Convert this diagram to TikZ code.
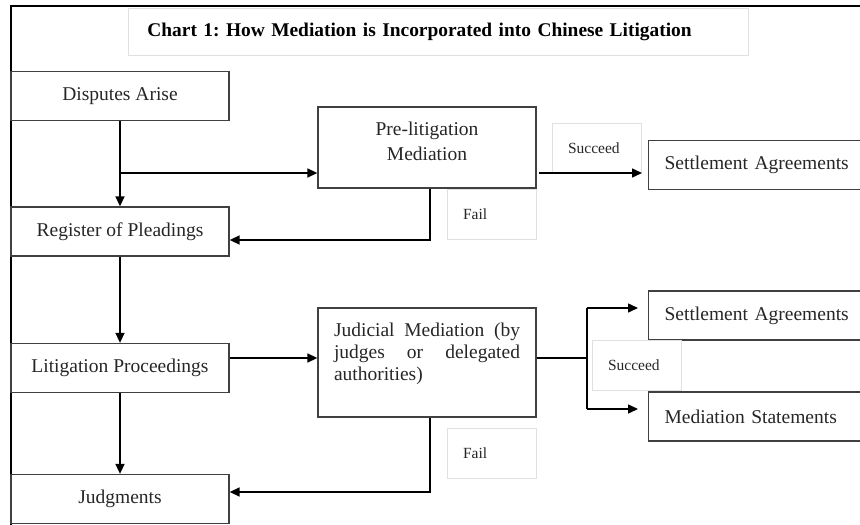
\documentclass[tikz,border=0pt]{standalone}
\usepackage{fontspec}
\setmainfont{Liberation Serif}
\usetikzlibrary{arrows.meta}
\frenchspacing

\begin{document}
\begin{tikzpicture}[x=1pt,y=-1pt,line width=1.5pt,>={Triangle[length=10pt,width=9pt]},
    box/.style={draw=black!75,line width=1.3pt,minimum width=218pt,minimum height=49pt,
        font=\fontsize{19.5}{24}\selectfont,text=black!85},
    rbox/.style={box,anchor=west,text width=198pt,inner xsep=16pt,align=left},
    lbl/.style={draw=black!12,line width=0.8pt,minimum height=50pt,text width=57pt,
        inner xsep=16pt,align=left,font=\fontsize{15.5}{18}\selectfont,text=black!85}]
    \useasboundingbox (0,0) rectangle (860,525);
    \draw[line width=2.5pt] (11,6) rectangle (900,560);

    \node[lbl,anchor=north west,minimum height=47pt,text width=582pt,inner xsep=19pt,
        font=\bfseries\fontsize{19.4}{24}\selectfont,text=black] (title) at (128,8)
        {Chart 1: How Mediation is Incorporated into Chinese Litigation};

    \node[box] (dis) at (120,96) {Disputes Arise};
    \node[box] (reg) at (120,231.5) {Register of Pleadings};
    \node[box] (lit) at (120,368) {Litigation Proceedings};
    \node[box] (jud) at (120,499) {Judgments};

    \node[box,minimum height=81pt,align=center,font=\fontsize{19.5}{25}\selectfont] (pre) at (427,147.5)
        {Pre-litigation\\Mediation\\[-12pt]\mbox{}};
    \node[box,minimum height=109pt,align=left,font=\fontsize{19.5}{22}\selectfont] (jm) at (427,362.5)
        {\makebox[186pt][s]{Judicial Mediation (by}\\\makebox[186pt][s]{judges or delegated}\\authorities)\\\mbox{}};

    \node[rbox] (sa1) at (648,165) {Settlement Agreements};
    \node[rbox] (sa2) at (648,315.5) {Settlement Agreements};
    \node[rbox] (ms) at (648,416.5) {Mediation Statements};

    \node[lbl] (suc1) at (596.5,148) {Succeed};
    \node[lbl] (fail1) at (491.5,214) {Fail};
    \node[lbl] (suc2) at (636.5,365) {Succeed};
    \node[lbl] (fail2) at (491.5,453.5) {Fail};

    \coordinate (b1) at (120,173);
    \coordinate (f1) at (430,240);
    \coordinate (f2) at (430,492);
    \coordinate (s1) at (587,358);
    \coordinate (s2) at (587,308);
    \coordinate (s3) at (587,409);

    \draw[->] (dis) to (reg); \draw[->] (b1) to (b1 -| pre.west);
    \draw[->] (pre.south -| f1) -- (f1) -- (f1 -| reg.east);
    \draw[->,shorten <=2pt,shorten >=6pt] (b1 -| pre.east) to (b1 -| sa1.west);
    \draw[->] (reg) to (lit); \draw[->] (lit.east |- s1) to (jm.west |- s1);
    \draw[->] (lit) to (jud);
    \draw[->] (jm.south -| f2) -- (f2) -- (f2 -| jud.east);
    \draw (jm.east |- s1) -- (s1) -- (s2); \draw (s1) -- (s3);
    \draw[->,shorten >=10pt] (s2) to (s2 -| sa2.west);
    \draw[->,shorten >=10pt] (s3) to (s3 -| ms.west);
\end{tikzpicture}
\end{document}
